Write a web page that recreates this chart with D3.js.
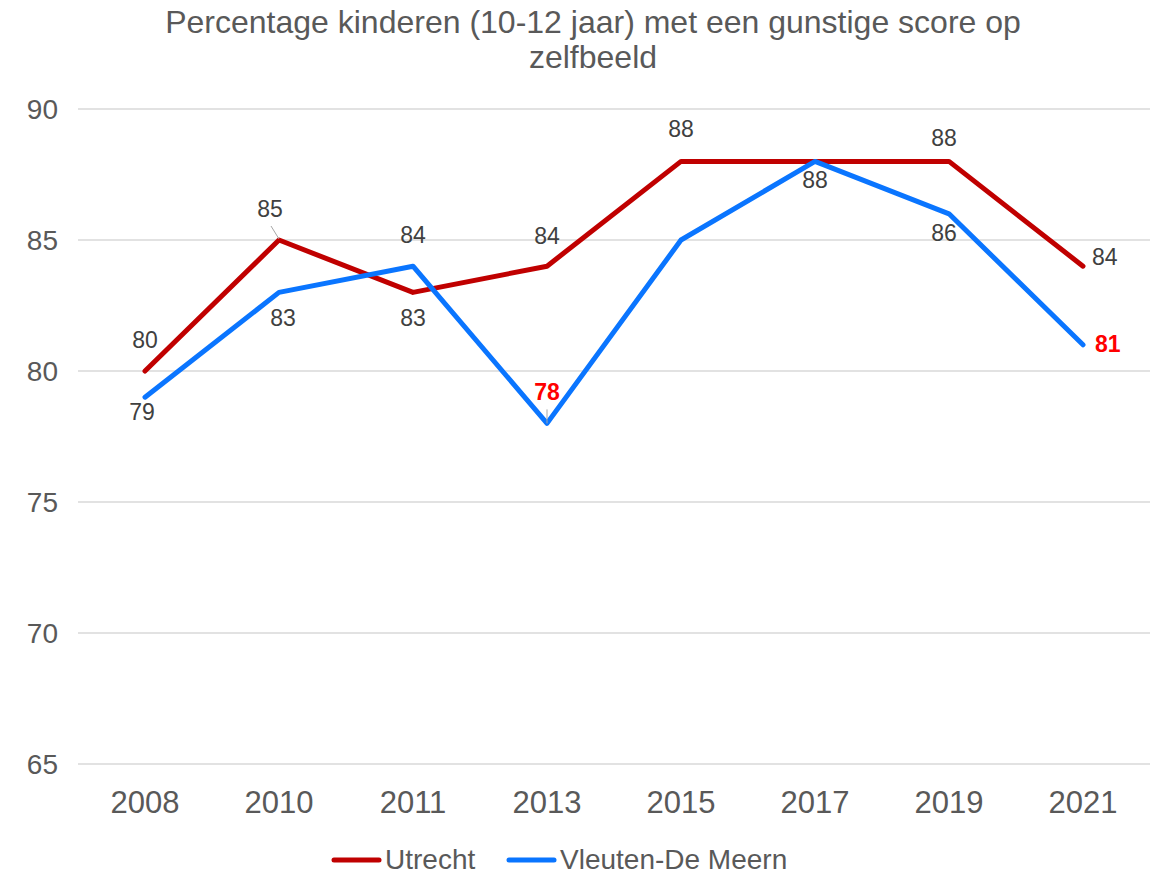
<!DOCTYPE html>
<html>
<head>
<meta charset="utf-8">
<script src="https://cdn.jsdelivr.net/npm/d3@7"></script>
<style>
  body { margin: 0; background: #fff; }
  text { font-family: "Liberation Sans", Arial, sans-serif; }
</style>
</head>
<body>
<div id="chart"></div>
<script>
// data
var years = ["2008", "2010", "2011", "2013", "2015", "2017", "2019", "2021"];
var utrecht = [80, 85, 83, 84, 88, 88, 88, 84];
var vleuten = [79, 83, 84, 78, 85, 88, 86, 81];
var yTicks = [65, 70, 75, 80, 85, 90];
var seriesNames = ["Utrecht", "Vleuten-De Meern"];

// label placement per point: [dx, dy, anchor, leader, highlight], null = no label
var utrechtLab = [
  [0, -23, "middle"], [-9, -23, "middle", "diag"], [0, 34, "middle"], [0, -22, "middle"],
  [0, -24, "middle"], null, [-5, -15, "middle"], [9, -1, "start"]
];
var vleutenLab = [
  [-3, 23, "middle"], [4, 34, "middle"], [0, -23, "middle"], [0, -23, "middle", "vert", true],
  null, [0, 27, "middle"], [-5, 27, "middle"], [12, 7, "start", null, true]
];

var width = 1165, height = 876;
var margin = { top: 109, right: 15, bottom: 112, left: 78 };

var svg = d3.select("#chart").append("svg")
  .attr("width", width)
  .attr("height", height);

var x = d3.scaleBand()
  .domain(years)
  .range([margin.left, width - margin.right]);

var y = d3.scaleLinear()
  .domain([65, 90])
  .range([height - margin.bottom, margin.top]);

// title
svg.append("text")
  .attr("x", 593).attr("y", 33)
  .attr("text-anchor", "middle")
  .attr("fill", "#595959")
  .style("font-size", "32px")
  .text("Percentage kinderen (10-12 jaar) met een gunstige score op");
svg.append("text")
  .attr("x", 593).attr("y", 68)
  .attr("text-anchor", "middle")
  .attr("fill", "#595959")
  .style("font-size", "32px")
  .text("zelfbeeld");

// gridlines
svg.append("g").selectAll("line").data(yTicks).enter().append("line")
  .attr("x1", margin.left).attr("x2", width - margin.right)
  .attr("y1", d => y(d)).attr("y2", d => y(d))
  .attr("stroke", "#d9d9d9").attr("stroke-width", 1.5);

// y axis labels
var yAxis = d3.axisLeft(y).tickValues(yTicks).tickSize(0).tickPadding(20);
var gy = svg.append("g")
  .attr("transform", "translate(" + margin.left + ",0)")
  .call(yAxis);
gy.select(".domain").remove();
gy.selectAll("text").attr("fill", "#595959").style("font-size", "28px")
  .attr("dy", "0.35em").attr("font-family", null);

// x axis labels
var xAxis = d3.axisBottom(x).tickSize(0).tickPadding(27);
var gx = svg.append("g")
  .attr("transform", "translate(0," + y(65) + ")")
  .call(xAxis);
gx.select(".domain").remove();
gx.selectAll("text").attr("fill", "#595959").style("font-size", "31px")
  .attr("font-family", null);

var line = d3.line()
  .x((d, i) => x(years[i]) + x.bandwidth() / 2)
  .y(d => y(d));

var colors = ["#C00000", "#0A75FF"];

svg.append("path").datum(utrecht)
  .attr("d", line).attr("fill", "none")
  .attr("stroke", colors[0]).attr("stroke-width", 5)
  .attr("stroke-linejoin", "round").attr("stroke-linecap", "round");

svg.append("path").datum(vleuten)
  .attr("d", line).attr("fill", "none")
  .attr("stroke", colors[1]).attr("stroke-width", 5)
  .attr("stroke-linejoin", "round").attr("stroke-linecap", "round");

// data labels
function labels(values, lab) {
  values.forEach(function (v, i) {
    var l = lab[i];
    if (!l) return;
    var cx = x(years[i]) + x.bandwidth() / 2, cy = y(v);
    if (l[3] === "diag") {
      svg.append("line")
        .attr("x1", cx).attr("y1", cy - 1)
        .attr("x2", cx - 8).attr("y2", cy - 14)
        .attr("stroke", "#a6a6a6").attr("stroke-width", 1);
    }
    if (l[3] === "vert") {
      svg.append("line")
        .attr("x1", cx).attr("y1", cy)
        .attr("x2", cx).attr("y2", cy - 14)
        .attr("stroke", "#a6a6a6").attr("stroke-width", 1);
    }
    svg.append("text")
      .attr("x", cx + l[0]).attr("y", cy + l[1])
      .attr("text-anchor", l[2])
      .attr("fill", l[4] ? "#FF0000" : "#404040")
      .style("font-size", "23px")
      .style("font-weight", l[4] ? "bold" : "normal")
      .text(v);
  });
}
labels(utrecht, utrechtLab);
labels(vleuten, vleutenLab);

// legend
var legend = svg.append("g");
var legX = [334, 509];
seriesNames.forEach(function (name, i) {
  legend.append("line")
    .attr("x1", legX[i]).attr("x2", legX[i] + 45)
    .attr("y1", 860).attr("y2", 860)
    .attr("stroke", colors[i]).attr("stroke-width", 5)
    .attr("stroke-linecap", "round");
  legend.append("text")
    .attr("x", legX[i] + 51).attr("y", 869)
    .attr("fill", "#595959")
    .style("font-size", "28px")
    .text(name);
});
</script>
</body>
</html>
